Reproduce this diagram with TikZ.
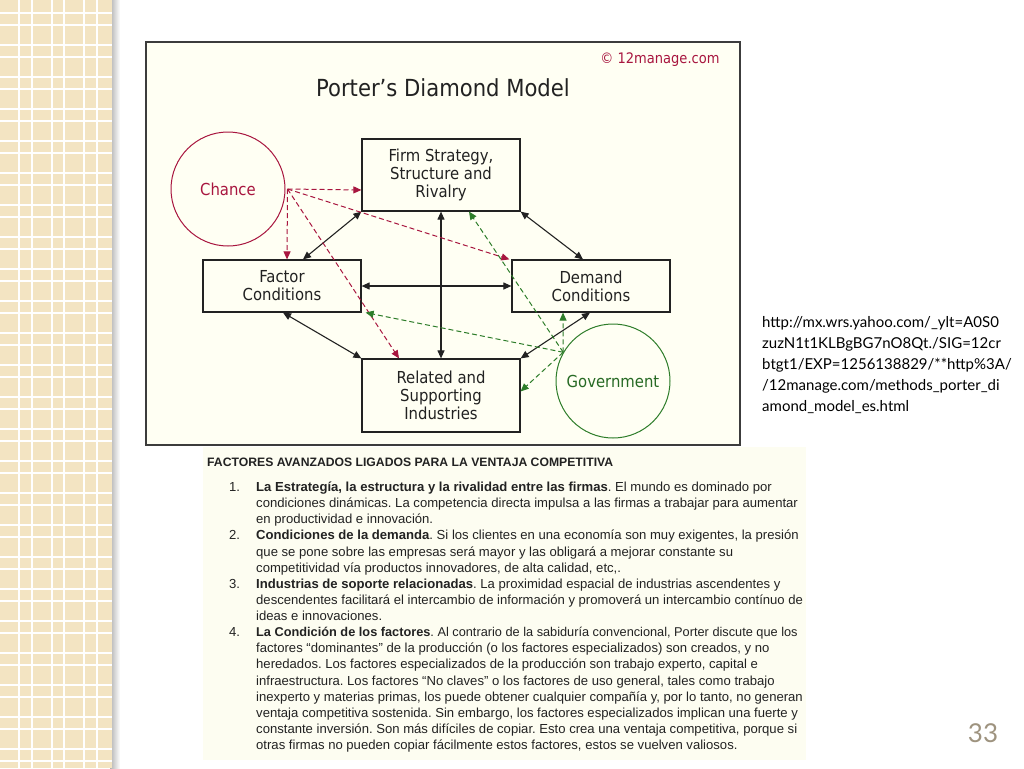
\documentclass[tikz,border=0pt]{standalone}
\usepackage{fontspec}
\setmainfont{Liberation Sans}
\newfontfamily\dgfont{DejaVu Sans Condensed}
\newfontfamily\urlfont{Lato}
\usetikzlibrary{arrows.meta}
\definecolor{stripbg}{HTML}{F3E4C2}
\definecolor{ivory}{HTML}{FFFFF3}
\definecolor{framegray}{HTML}{3C3C3C}
\definecolor{crimson}{HTML}{A8163F}
\definecolor{govgreen}{HTML}{2E7D2A}
\definecolor{blockbg}{HTML}{FDFDF1}
\definecolor{txt}{HTML}{222222}
\definecolor{numcol}{HTML}{9E937F}
\tikzset{
  box/.style={draw=txt, line width=1.2pt, fill=ivory, align=center, text=txt,
    font=\dgfont\fontsize{16.5}{18}\selectfont, inner sep=0pt},
  ring/.style={circle, draw, line width=1pt, minimum size=114pt, inner sep=0pt,
    font=\dgfont\fontsize{16.5}{18}\selectfont},
  blk/.style={draw=txt, line width=1.1pt,
    {Triangle[length=8pt,width=7pt]}-{Triangle[length=8pt,width=7pt]}},
  redd/.style={draw=crimson, line width=1pt, dash pattern=on 5pt off 3pt,
    -{Triangle[length=8pt,width=7pt]}},
  greend/.style={draw=govgreen, line width=1pt, dash pattern=on 5pt off 3pt,
    -{Triangle[length=8pt,width=7pt]}},
  para/.style={anchor=base west, inner sep=0pt, text=txt,
    font=\frenchspacing\fontsize{13.1}{16}\selectfont},
  urlline/.style={anchor=base west, inner sep=0pt, text=black,
    font=\urlfont\fontsize{15}{21}\selectfont}
}
\begin{document}
\begin{tikzpicture}[x=1pt,y=-1pt]
\useasboundingbox (0,0) rectangle (1024,768);
\fill[white] (0,0) rectangle (1024,768);
% left decorative strip
\shade[left color=black!30, right color=white] (110,0) rectangle (120,768);
\fill[stripbg] (0,0) rectangle (112,768);
\foreach \k in {0,...,23} {
  \draw[white, line width=1.6pt] (0,13+32*\k) -- (112,13+32*\k);
  \draw[white, line width=1.6pt] (0,25+32*\k) -- (112,25+32*\k);
}
\foreach \xx in {19,32,52,64,84,97} {
  \draw[white, line width=1.6pt] (\xx,0) -- (\xx,768);
}
% diagram frame
\draw[fill=ivory, draw=framegray, line width=2pt] (146,42) rectangle (740,445);
\node[text=crimson, font=\dgfont\fontsize{14.5}{16}\selectfont] (copy) at (660,60) {© 12manage.com};
\node[text=txt, font=\dgfont\fontsize{23.5}{28}\selectfont] (title) at (443,88) {Porter’s Diamond Model};
% boxes
\node[box, minimum width=158pt, minimum height=72pt] (firm) at (441,175) {Firm Strategy,\\Structure and\\Rivalry};
\node[box, minimum width=158pt, minimum height=52pt] (factor) at (282,286) {Factor\\Conditions};
\node[box, minimum width=158pt, minimum height=52pt] (demand) at (591,286) {Demand\\Conditions};
\node[box, minimum width=158pt, minimum height=73pt] (related) at (441,395.5) {Related and\\Supporting\\Industries};
\node[ring, draw=crimson, text=crimson] (chance) at (228,189) {Chance};
\node[ring, draw=govgreen, text=govgreen!85!black] (gov) at (613,381) {Government};
% black connectors
\draw[blk] (firm.south west) -- ([xshift=21pt]factor.north);
\draw[blk] (firm.south east) -- ([xshift=-8pt]demand.north);
\draw[blk] (firm.south) -- (related.north);
\draw[blk] (factor.east) -- (demand.west);
\draw[blk] ([xshift=1pt]factor.south) -- (related.north west);
\draw[blk] ([xshift=-1pt]demand.south) -- (related.north east);
% chance influences
\coordinate (cs) at ([xshift=2pt]chance.east);
\draw[redd] (cs) -- ([yshift=-15pt]firm.west);
\draw[redd] (cs) -- ([xshift=5pt]factor.north);
\draw[redd] (cs) -- ([xshift=-2pt]demand.north west);
\draw[redd] (cs) -- ([xshift=-42pt]related.north);
% government influences
\coordinate (gs) at (gov.150);
\draw[greend] (gs) -- ([xshift=28pt]firm.south);
\draw[greend] (gs) -- ([xshift=4pt]factor.south east);
\draw[greend] (gs) -- ([xshift=-28pt]demand.south);
\draw[greend] (gs) -- ([yshift=-33pt]related.north east);
% URL
\node[urlline] (u1) at (762,327) {http://mx.wrs.yahoo.com/\_ylt=A0S0};
\node[urlline] (u2) at (762,348) {zuzN1t1KLBgBG7nO8Qt./SIG=12cr};
\node[urlline] (u3) at (762,369) {btgt1/EXP=1256138829/**http\%3A/};
\node[urlline] (u4) at (762,390) {/12manage.com/methods\_porter\_di};
\node[urlline] (u5) at (762,411) {amond\_model\_es.html};
% text block
\fill[blockbg] (203,447) rectangle (806,760);
\begin{scope}
\clip (203,447) rectangle (806,760);
\node[para, font=\bfseries\fontsize{12.2}{14}\selectfont] (bt) at (207,466) {FACTORES AVANZADOS LIGADOS PARA LA VENTAJA COMPETITIVA};
\node[para] (n1) at (229,491.5) {1.};
\node[para] (l1) at (256,491.5) {\textbf{La Estrategía, la estructura y la rivalidad entre las firmas}. El mundo es dominado por};
\node[para] (l2) at (256,507.5) {condiciones dinámicas. La competencia directa impulsa a las firmas a trabajar para aumentar};
\node[para] (l3) at (256,523.5) {en productividad e innovación.};
\node[para] (n2) at (229,539.5) {2.};
\node[para] (l4) at (256,539.5) {\textbf{Condiciones de la demanda}. Si los clientes en una economía son muy exigentes, la presión};
\node[para] (l5) at (256,556) {que se pone sobre las empresas será mayor y las obligará a mejorar constante su};
\node[para] (l6) at (256,572) {competitividad vía productos innovadores, de alta calidad, etc,.};
\node[para] (n3) at (229,588) {3.};
\node[para] (l7) at (256,588) {\textbf{Industrias de soporte relacionadas}. La proximidad espacial de industrias ascendentes y};
\node[para] (l8) at (256,604) {descendentes facilitará el intercambio de información y promoverá un intercambio contínuo de};
\node[para] (l9) at (256,620) {ideas e innovaciones.};
\node[para] (n4) at (229,636) {4.};
\node[para, font=\frenchspacing\fontsize{12.75}{16}\selectfont] (l10) at (256,636) {\textbf{La Condición de los factores}. Al contrario de la sabiduría convencional, Porter discute que los};
\node[para] (l11) at (256,652) {factores “dominantes” de la producción (o los factores especializados) son creados, y no};
\node[para] (l12) at (256,668.5) {heredados. Los factores especializados de la producción son trabajo experto, capital e};
\node[para] (l13) at (256,685) {infraestructura. Los factores “No claves” o los factores de uso general, tales como trabajo};
\node[para] (l14) at (256,701) {inexperto y materias primas, los puede obtener cualquier compañía y, por lo tanto, no generan};
\node[para] (l15) at (256,717) {ventaja competitiva sostenida. Sin embargo, los factores especializados implican una fuerte y};
\node[para] (l16) at (256,733) {constante inversión. Son más difíciles de copiar. Esto crea una ventaja competitiva, porque si};
\node[para] (l17) at (256,749) {otras firmas no pueden copiar fácilmente estos factores, estos se vuelven valiosos.};
\end{scope}
% slide number
\node[text=numcol, font=\urlfont\fontsize{26}{30}\selectfont] (num) at (983,733) {33};
\end{tikzpicture}
\end{document}
